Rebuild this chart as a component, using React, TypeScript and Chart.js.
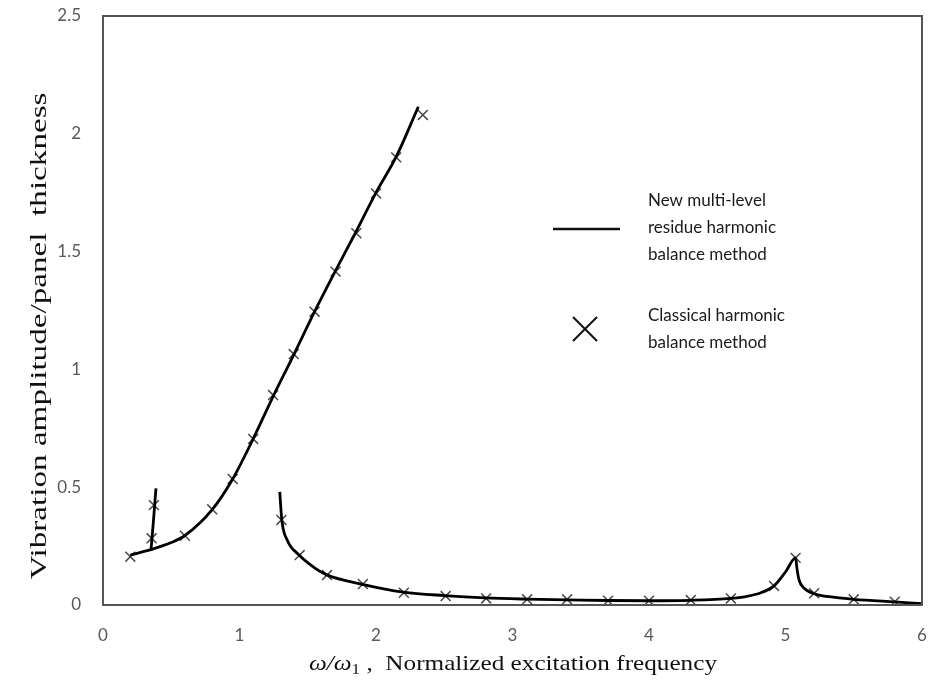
import React, { useEffect, useRef } from "react";
import { Chart, registerables } from "chart.js";

Chart.register(...registerables);

// ---- data ----
const upperX = [0.2, 0.35, 0.5, 0.6, 0.8, 0.95, 1.1, 1.25, 1.4, 1.55, 1.7, 1.85, 2.0, 2.15, 2.31];
const upperY = [0.212, 0.235, 0.265, 0.295, 0.405, 0.535, 0.705, 0.89, 1.065, 1.245, 1.415, 1.58, 1.75, 1.905, 2.115];

const spurX = [0.351, 0.37, 0.388];
const spurY = [0.23, 0.36, 0.495];

const lowerX = [1.295, 1.31, 1.35, 1.44, 1.55, 1.64, 1.9, 2.2, 2.5, 2.8, 3.1, 3.4, 3.7, 4.0, 4.3, 4.6, 4.71, 4.82, 4.916, 5.0, 5.074, 5.085, 5.1, 5.13, 5.21, 5.35, 5.5, 5.8, 6.0];
const lowerY = [0.48, 0.36, 0.275, 0.21, 0.158, 0.128, 0.088, 0.055, 0.04, 0.03, 0.025, 0.022, 0.019, 0.018, 0.02, 0.028, 0.036, 0.052, 0.081, 0.14, 0.2, 0.15, 0.105, 0.075, 0.048, 0.033, 0.024, 0.013, 0.006];

const markX = [0.2, 0.356, 0.373, 0.6, 0.8, 0.95, 1.1, 1.246, 1.397, 1.55, 1.704, 1.856, 2.0, 2.148, 2.343, 1.307, 1.441, 1.641, 1.904, 2.204, 2.51, 2.807, 3.107, 3.4, 3.7, 4.0, 4.306, 4.6, 4.916, 5.074, 5.21, 5.5, 5.8];
const markY = [0.205, 0.283, 0.424, 0.294, 0.406, 0.535, 0.705, 0.891, 1.065, 1.245, 1.415, 1.578, 1.747, 1.9, 2.08, 0.361, 0.212, 0.127, 0.089, 0.052, 0.038, 0.028, 0.024, 0.024, 0.018, 0.018, 0.021, 0.028, 0.081, 0.2, 0.05, 0.024, 0.014];

const xTicks = [0, 1, 2, 3, 4, 5, 6];
const yTicks = [0, 0.5, 1, 1.5, 2, 2.5];

const legendLineText = ["New multi-level", "residue harmonic", "balance method"];
const legendMarkText = ["Classical harmonic", "balance method"];

const yTitle = "Vibration amplitude/panel  thickness";
const xTitleRest = " ,  Normalized excitation frequency";

const zip = (xs: number[], ys: number[]) => xs.map((x, i) => ({ x, y: ys[i] }));

const framePlugin = {
  id: "frame",
  afterDraw(chart: any) {
    const { ctx, chartArea } = chart;
    const { left, right, top, bottom } = chartArea;
    ctx.save();
    ctx.strokeStyle = "#555555";
    ctx.lineWidth = 2;
    ctx.strokeRect(left, top, right - left, bottom - top);

    // legend
    ctx.strokeStyle = "#111111";
    ctx.lineWidth = 2.5;
    ctx.beginPath();
    ctx.moveTo(553, 229);
    ctx.lineTo(620, 229);
    ctx.stroke();
    ctx.lineWidth = 2;
    ctx.beginPath();
    ctx.moveTo(573, 317);
    ctx.lineTo(597, 341);
    ctx.moveTo(597, 317);
    ctx.lineTo(573, 341);
    ctx.stroke();
    ctx.fillStyle = "#1a1a1a";
    ctx.font = "17px Lato";
    ctx.textAlign = "left";
    ctx.textBaseline = "middle";
    legendLineText.forEach((t, i) => ctx.fillText(t, 648, 201 + i * 27));
    legendMarkText.forEach((t, i) => ctx.fillText(t, 648, 316 + i * 27));

    // x title
    ctx.fillStyle = "#111111";
    ctx.textBaseline = "alphabetic";
    const italic = "italic 22px 'Liberation Serif'";
    const regular = "22px 'Liberation Serif'";
    const sub = "15px 'Liberation Serif'";
    ctx.font = italic;
    const w1 = ctx.measureText("\u03c9/\u03c9").width;
    ctx.font = sub;
    const w2 = ctx.measureText("1").width;
    ctx.font = regular;
    const w3 = ctx.measureText(xTitleRest).width;
    const total = w1 + w2 + w3;
    const target = 408;
    const sx = target / total;
    ctx.save();
    ctx.translate(513 - target / 2, 670);
    ctx.scale(sx, 1);
    ctx.font = italic;
    ctx.fillText("\u03c9/\u03c9", 0, 0);
    ctx.font = sub;
    ctx.fillText("1", w1, 4);
    ctx.font = regular;
    ctx.fillText(xTitleRest, w1 + w2, 0);
    ctx.restore();

    // y title
    ctx.font = "23px 'Liberation Serif'";
    const wy = ctx.measureText(yTitle).width;
    const ty = 487;
    ctx.save();
    ctx.translate(40, 336);
    ctx.rotate(-Math.PI / 2);
    ctx.scale(ty / wy, 1);
    ctx.textAlign = "center";
    ctx.textBaseline = "middle";
    ctx.fillText(yTitle, 0, 0);
    ctx.restore();
    ctx.restore();
  },
};

export default function App() {
  const ref = useRef<HTMLCanvasElement>(null);
  useEffect(() => {
    const canvas = ref.current!;
    const chart = new Chart(canvas, {
      type: "scatter",
      data: {
        datasets: [
          {
            label: "upper",
            data: zip(upperX, upperY),
            showLine: true,
            borderColor: "#000",
            borderWidth: 2.8,
            pointRadius: 0,
            cubicInterpolationMode: "monotone",
          },
          {
            label: "spur",
            data: zip(spurX, spurY),
            showLine: true,
            borderColor: "#000",
            borderWidth: 2.8,
            pointRadius: 0,
          },
          {
            label: "lower",
            data: zip(lowerX, lowerY),
            showLine: true,
            borderColor: "#000",
            borderWidth: 2.8,
            pointRadius: 0,
            cubicInterpolationMode: "monotone",
          },
          {
            label: "Classical harmonic balance method",
            data: zip(markX, markY),
            showLine: false,
            pointStyle: "crossRot",
            pointRadius: 7,
            borderColor: "#4a4a4a",
            borderWidth: 1.5,
            backgroundColor: "#4a4a4a",
          },
        ],
      } as any,
      options: {
        animation: false,
        responsive: false,
        devicePixelRatio: 1,
        layout: { padding: { left: 0, right: 11, top: 16, bottom: 0 } },
        plugins: { legend: { display: false }, tooltip: { enabled: false } },
        scales: {
          x: {
            type: "linear",
            min: 0,
            max: 6,
            afterBuildTicks: (s: any) => {
              s.ticks = xTicks.map((v) => ({ value: v }));
            },
            afterFit: (s: any) => {
              s.height = 76;
              s.paddingLeft = 0;
              s.paddingRight = 0;
            },
            grid: { display: false, drawTicks: false },
            border: { display: false },
            ticks: { color: "#595959", font: { family: "Lato", size: 17 }, padding: 20, callback: (v: any) => String(v) },
          },
          y: {
            type: "linear",
            min: 0,
            max: 2.5,
            afterBuildTicks: (s: any) => {
              s.ticks = yTicks.map((v) => ({ value: v }));
            },
            afterFit: (s: any) => {
              s.width = 103;
              s.paddingTop = 0;
              s.paddingBottom = 0;
            },
            grid: { display: false, drawTicks: false },
            border: { display: false },
            ticks: { color: "#595959", font: { family: "Lato", size: 17 }, padding: 22, callback: (v: any) => String(v) },
          },
        },
      },
      plugins: [framePlugin],
    } as any);
    return () => chart.destroy();
  }, []);
  return (
    <div style={{ position: "absolute", left: 0, top: 0, width: 933, height: 681, background: "#fff" }}>
      <canvas ref={ref} width={933} height={681} />
    </div>
  );
}
